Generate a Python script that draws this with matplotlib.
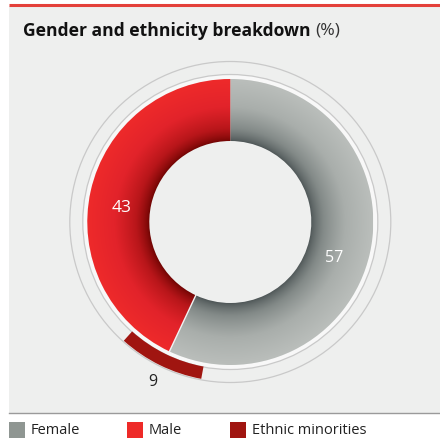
import numpy as np
import matplotlib
matplotlib.use("Agg")
import matplotlib.pyplot as plt
from matplotlib.patches import Wedge, Circle, Rectangle
from matplotlib.colors import LinearSegmentedColormap

plt.rcParams["font.family"] = ["Open Sans", "DejaVu Sans"]

# ---- data ----
categories = ["Female", "Male"]
shares = [57, 43]
minority_label = "Ethnic minorities"
minority_share = 9
legend_labels = ["Female", "Male", "Ethnic minorities"]

W, H = 440, 441
BG = "#eeefee"
cx, cy = 230.3, H - 222.0          # donut centre (pixel units, y up)
R_OUT, R_IN = 143.0, 81.0

fig = plt.figure(figsize=(W / 100, H / 100), dpi=100)
ax = fig.add_axes([0, 0, 1, 1])
ax.set_xlim(0, W); ax.set_ylim(0, H); ax.axis("off")

# panel, top rule, bottom rule
ax.add_patch(Rectangle((9, H - 412.5), W - 9, 406.5, facecolor=BG, edgecolor="none", zorder=0))
ax.plot([9, W], [H - 5, H - 5], color="#e4403a", lw=2.2, solid_capstyle="butt", zorder=1)
ax.plot([9, W], [H - 412.7, H - 412.7], color="#9a9a9a", lw=1.0, zorder=1)

# title
t1 = ax.text(23, H - 30.5, "Gender and ethnicity breakdown", fontsize=12.6, fontweight="bold",
             color="#111111", va="center", ha="left")
fig.canvas.draw()
bb = t1.get_window_extent()
ax.text(bb.x1 + 5, H - 30.5, "(%)", fontsize=12.6, color="#333333", va="center", ha="left")

# outer guide rings (light band just outside the donut, plus two hairlines)
ax.add_patch(Wedge((cx, cy), 147.5, 0, 360, width=147.5 - R_OUT, facecolor="#f8f8f8",
                   edgecolor="none", zorder=2))
ax.add_patch(Circle((cx, cy), 147.5, facecolor="none", edgecolor="#c9c9c9", lw=0.9, zorder=2))
ax.add_patch(Circle((cx, cy), 160.5, facecolor="none", edgecolor="#c9c9c9", lw=0.9, zorder=2))

# donut with radial gradient
female, male = shares
a_top = 90.0
a_split = a_top + male * 3.6
seg = {"Male": (a_top, a_split), "Female": (a_split, a_top + 360)}
cmaps = {"Male": LinearSegmentedColormap.from_list("m", ["#6e0402", "#b8161a", "#e2232a", "#ee2a2b"]),
         "Female": LinearSegmentedColormap.from_list("f", ["#4a5253", "#838a88", "#a9aeab", "#babebb"])}

xs = np.linspace(cx - R_OUT, cx + R_OUT, 500)
ys = np.linspace(cy - R_OUT, cy + R_OUT, 500)
XX, YY = np.meshgrid(xs, ys)
rr = np.hypot(XX - cx, YY - cy)
tt = np.clip((rr - R_IN) / (R_OUT - R_IN), 0, 1) ** 0.7

for name in categories:
    th1, th2 = seg[name]
    w = Wedge((cx, cy), R_OUT, th1, th2, width=R_OUT - R_IN, facecolor="none",
              edgecolor="none", zorder=3)
    ax.add_patch(w)
    im = ax.imshow(tt, cmap=cmaps[name], extent=(xs[0], xs[-1], ys[0], ys[-1]),
                   origin="lower", vmin=0, vmax=1, zorder=3, interpolation="bilinear")
    im.set_clip_path(w)
    ax.set_aspect("auto")

# thin separator at the lower split
ang = np.deg2rad(a_split)
ax.plot([cx + R_IN * np.cos(ang), cx + R_OUT * np.cos(ang)],
        [cy + R_IN * np.sin(ang), cy + R_OUT * np.sin(ang)], color="#f2f2f2", lw=1.0, zorder=4)

# ethnic minorities arc, centred on the split
half = minority_share * 3.6 / 2
ax.add_patch(Wedge((cx, cy), 159.5, a_split - half - 0.5, a_split + half - 1.5, width=12.5,
                   facecolor="#a01510", edgecolor="none", zorder=5))

# labels
def polar(r, deg):
    return cx + r * np.cos(np.deg2rad(deg)), cy + r * np.sin(np.deg2rad(deg))

x, y = polar(110, 172.5)
ax.text(x, y, str(male), color="white", fontsize=12.5, ha="center", va="center", zorder=6)
x, y = polar(110, -19)
ax.text(x, y, str(female), color="white", fontsize=11.5, ha="center", va="center", zorder=6)
x, y = polar(178, a_split - 0.6)
ax.text(x, y, str(minority_share), color="#222222", fontsize=11.5, ha="center", va="center", zorder=6)

# legend
leg_cols = ["#8f9692", "#ee2a28", "#a01510"]
leg_x = [9, 127, 230]
for lx, col, lab in zip(leg_x, leg_cols, legend_labels):
    ax.add_patch(Rectangle((lx, H - 437.5), 16, 16, facecolor=col, edgecolor="none", zorder=2))
    ax.text(lx + 22, H - 430, lab, fontsize=10.5, color="#222222", va="center", ha="left")

fig.savefig("out.png", dpi=100, facecolor="white")
